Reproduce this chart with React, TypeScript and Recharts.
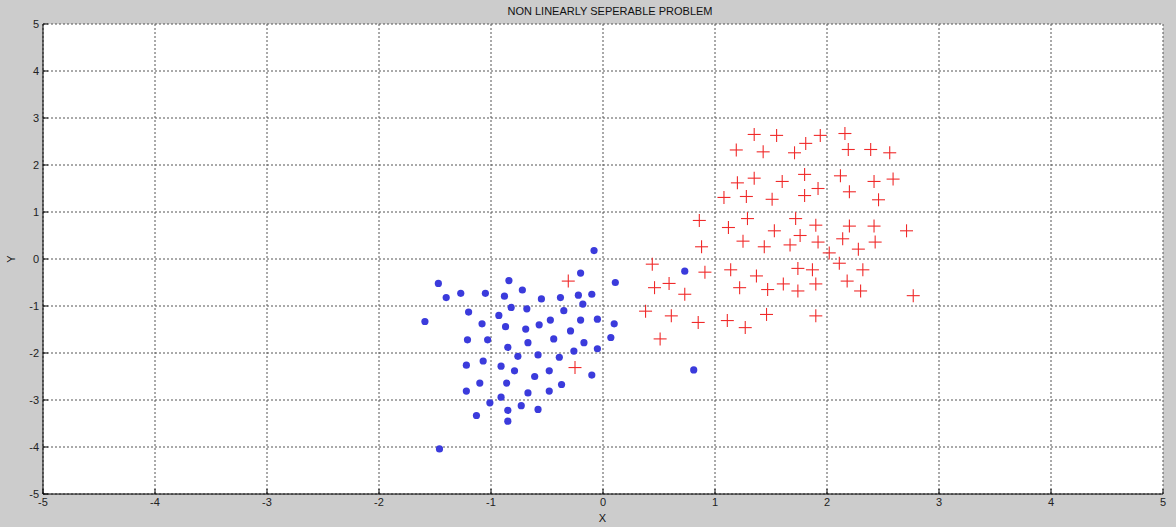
import React from 'react';
import { ScatterChart, Scatter, XAxis, YAxis, CartesianGrid } from 'recharts';

const axisTicks = [-5, -4, -3, -2, -1, 0, 1, 2, 3, 4, 5];

const classAX = [-0.08, -0.2, -1.47, -0.84, 0.11, -1.4, -1.27, -1.05, -0.72, -0.88, -0.55, -0.38, -0.22, -0.1, -0.18, -0.82, -0.68, -1.2, -0.35, -1.59, -0.93, -1.08, -0.87, -0.69, -0.57, -0.47, -0.2, -0.05, 0.1, -0.29, 0.07, -1.21, -1.03, -0.44, -0.67, -0.17, -0.85, -0.05, -0.26, -0.76, -0.58, -0.39, -1.22, -1.07, -0.91, -0.79, -0.48, -0.61, -0.1, -1.1, -0.86, -0.37, -1.22, -0.67, -0.48, -0.91, -1.01, -0.73, -0.58, -0.85, -1.13, -0.85, -1.46, 0.73, 0.81];
const classAY = [0.18, -0.3, -0.52, -0.46, -0.5, -0.82, -0.73, -0.73, -0.66, -0.79, -0.85, -0.82, -0.77, -0.75, -0.96, -1.03, -1.06, -1.13, -1.1, -1.33, -1.2, -1.38, -1.44, -1.49, -1.4, -1.3, -1.3, -1.28, -1.38, -1.53, -1.67, -1.72, -1.72, -1.7, -1.78, -1.78, -1.88, -1.91, -1.96, -2.07, -2.04, -2.09, -2.26, -2.17, -2.28, -2.38, -2.38, -2.5, -2.47, -2.64, -2.64, -2.67, -2.81, -2.85, -2.81, -2.94, -3.06, -3.12, -3.2, -3.22, -3.33, -3.45, -4.04, -0.26, -2.36];

const classBX = [1.35, 1.55, 1.94, 2.16, 1.19, 1.43, 1.81, 1.71, 2.19, 2.39, 2.56, 1.2, 1.35, 1.6, 1.8, 1.92, 1.8, 1.08, 1.28, 1.51, 2.12, 2.2, 2.42, 2.59, 2.46, 0.86, 0.88, 1.12, 1.29, 1.25, 1.44, 1.53, 1.72, 1.76, 1.67, 1.9, 1.92, 2.02, 2.14, 2.2, 2.28, 2.42, 2.43, 2.71, 0.44, 0.91, 1.14, 1.74, 1.87, 2.11, 2.32, 0.46, 0.59, 0.73, 1.22, 1.37, 1.47, 1.61, 1.74, 1.9, 2.18, 2.3, 2.77, 0.38, 0.61, 0.85, 0.51, 1.11, 1.27, 1.46, 1.9, -0.31, -0.25];
const classBY = [2.65, 2.63, 2.63, 2.67, 2.32, 2.28, 2.46, 2.26, 2.33, 2.33, 2.26, 1.62, 1.72, 1.65, 1.8, 1.5, 1.35, 1.31, 1.33, 1.27, 1.77, 1.43, 1.65, 1.7, 1.26, 0.82, 0.26, 0.67, 0.86, 0.38, 0.26, 0.6, 0.86, 0.5, 0.3, 0.72, 0.36, 0.13, 0.43, 0.7, 0.21, 0.7, 0.36, 0.6, -0.11, -0.28, -0.23, -0.2, -0.23, -0.09, -0.23, -0.61, -0.52, -0.75, -0.61, -0.36, -0.65, -0.53, -0.68, -0.53, -0.47, -0.68, -0.78, -1.11, -1.21, -1.35, -1.7, -1.31, -1.46, -1.18, -1.21, -0.47, -2.31];

const classA = classAX.map((x, i) => ({ x, y: classAY[i] }));
const classB = classBX.map((x, i) => ({ x, y: classBY[i] }));

const FONT = '"Liberation Sans", Arial, sans-serif';

const Dot = (props: any) => {
  const { cx, cy } = props;
  if (cx == null || cy == null) return null;
  return <circle cx={cx} cy={cy} r={3.6} fill="#3b3bdc" />;
};

const Plus = (props: any) => {
  const { cx, cy } = props;
  if (cx == null || cy == null) return null;
  const s = 6.5;
  return (
    <g stroke="#f02a2a" strokeWidth={1.1}>
      <line x1={cx - s} y1={cy} x2={cx + s} y2={cy} />
      <line x1={cx} y1={cy - s} x2={cx} y2={cy + s} />
    </g>
  );
};

const XTick = (props: any) => {
  const { x, y, payload } = props;
  return (
    <g>
      <line x1={x} y1={y} x2={x} y2={y - 5} stroke="#000" strokeWidth={1} />
      <text x={x} y={y + 4} dy="0.71em" textAnchor="middle" fontSize={11} fontFamily={FONT} fill="#222">
        {payload.value}
      </text>
    </g>
  );
};

const YTick = (props: any) => {
  const { x, y, payload } = props;
  return (
    <g>
      <line x1={x} y1={y} x2={x + 5} y2={y} stroke="#000" strokeWidth={1} />
      <text x={x - 4} y={y} dy="0.355em" textAnchor="end" fontSize={11} fontFamily={FONT} fill="#222">
        {payload.value}
      </text>
    </g>
  );
};

export default function App() {
  return (
    <div style={{ position: 'absolute', left: 0, top: 0, width: 1176, height: 527, background: '#cccccc', fontFamily: FONT }}>
      <ScatterChart width={1176} height={527} margin={{ top: 24, right: 13, left: 0, bottom: 0 }}>
        <CartesianGrid fill="#ffffff" stroke="#555" strokeDasharray="2 2" horizontalValues={axisTicks} verticalValues={axisTicks} />
        <XAxis
          type="number"
          dataKey="x"
          domain={[-5, 5]}
          ticks={axisTicks}
          allowDataOverflow
          height={33}
          tickSize={0}
          tickMargin={0}
          tickLine={false}
          tick={<XTick />}
          axisLine={{ stroke: '#000' }}
          interval={0}
        />
        <XAxis xAxisId="top" orientation="top" type="number" dataKey="x" domain={[-5, 5]} ticks={axisTicks} height={0} tick={false} tickLine={false} axisLine={{ stroke: '#000' }} />
        <YAxis
          type="number"
          dataKey="y"
          domain={[-5, 5]}
          ticks={axisTicks}
          allowDataOverflow
          width={43}
          tickSize={0}
          tickMargin={0}
          tickLine={false}
          tick={<YTick />}
          axisLine={{ stroke: '#000' }}
          interval={0}
        />
        <YAxis yAxisId="right" orientation="right" type="number" dataKey="y" domain={[-5, 5]} ticks={axisTicks} width={0} tick={false} tickLine={false} axisLine={{ stroke: '#000' }} />
        <Scatter data={classA} shape={<Dot />} isAnimationActive={false} />
        <Scatter data={classB} shape={<Plus />} isAnimationActive={false} />
      </ScatterChart>
      <div style={{ position: 'absolute', left: 0, width: 1220, top: 4, textAlign: 'center', fontSize: 11, color: '#111', lineHeight: '14px' }}>
        NON LINEARLY SEPERABLE PROBLEM
      </div>
      <div style={{ position: 'absolute', left: 0, width: 1205, top: 511, textAlign: 'center', fontSize: 11, color: '#111', lineHeight: '14px' }}>
        X
      </div>
      <div style={{ position: 'absolute', left: 4, top: 252, width: 14, height: 14, fontSize: 11, color: '#111', lineHeight: '14px', textAlign: 'center', transform: 'rotate(-90deg)' }}>
        Y
      </div>
    </div>
  );
}
